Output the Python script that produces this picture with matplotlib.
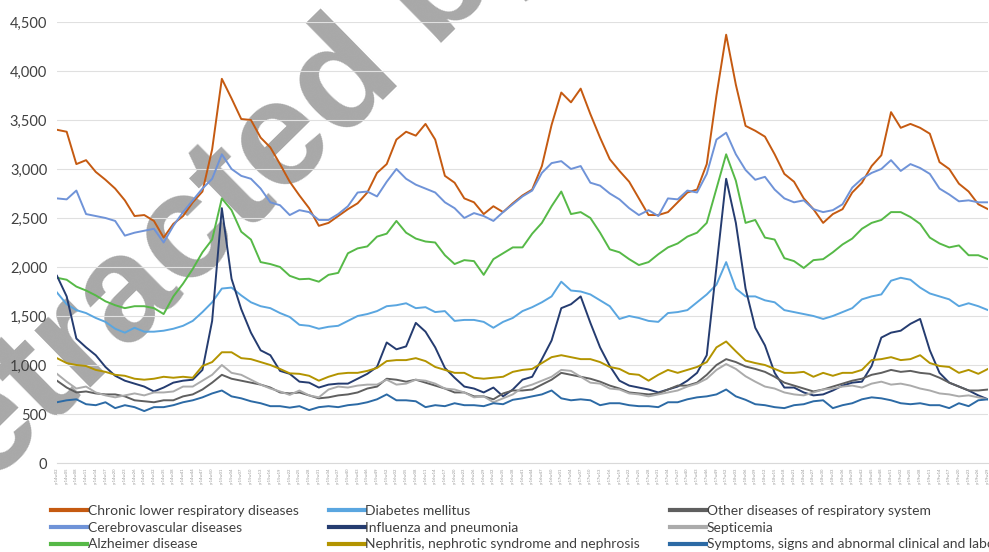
import matplotlib
matplotlib.use("Agg")
import matplotlib.pyplot as plt
from matplotlib.ticker import FuncFormatter

plt.rcParams["font.family"] = ["Lato", "DejaVu Sans"]

# weekly data, one value every 3 weeks (same spacing as the tick labels)
chronic = [3400, 3380, 3050, 3090, 2970, 2890, 2800, 2680, 2520, 2530, 2470, 2300, 2440, 2520, 2660, 2770, 3200, 3920, 3720, 3510, 3500, 3320, 3220, 3050, 2870,
           2730, 2600, 2420, 2450, 2520, 2590, 2650, 2760, 2960, 3050, 3300, 3380, 3340, 3460, 3300, 2930, 2860, 2700, 2660, 2540, 2620, 2560, 2650,
           2730, 2790, 3030, 3450, 3780, 3680, 3820, 3560, 3320, 3100, 2980, 2870, 2700, 2530, 2530, 2560, 2660, 2760, 2790, 3050, 3750, 4370, 3860, 3440,
           3390, 3330, 3150, 2950, 2870, 2700, 2590, 2450, 2540, 2590, 2760, 2860, 3030, 3140, 3580, 3420, 3460, 3420, 3360, 3070, 3000, 2850, 2770, 2640, 2590]
cerebro = [2700, 2690, 2780, 2540, 2520, 2500, 2470, 2320, 2350, 2370, 2390, 2250, 2420, 2560, 2680, 2800, 2900, 3150, 3000, 2930, 2900, 2800, 2660, 2630, 2530,
           2580, 2560, 2480, 2480, 2540, 2620, 2760, 2770, 2720, 2870, 3000, 2900, 2840, 2800, 2760, 2660, 2600, 2500, 2550, 2520, 2470, 2560, 2640,
           2720, 2780, 2960, 3060, 3080, 3000, 3030, 2860, 2830, 2750, 2690, 2600, 2530, 2580, 2520, 2700, 2690, 2780, 2760, 2950, 3300, 3370, 3150, 2990,
           2890, 2920, 2790, 2700, 2660, 2680, 2590, 2560, 2580, 2640, 2810, 2900, 2960, 3000, 3090, 2980, 3050, 3010, 2950, 2800, 2740, 2670, 2680, 2660, 2660]
alzheimer = [1890, 1870, 1800, 1760, 1710, 1650, 1610, 1580, 1600, 1600, 1580, 1520, 1700, 1830, 1980, 2150, 2280, 2700, 2580, 2360, 2280, 2050, 2030, 2000, 1910,
             1875, 1880, 1850, 1920, 1940, 2140, 2190, 2210, 2310, 2340, 2470, 2350, 2290, 2260, 2250, 2120, 2030, 2070, 2060, 1920, 2080, 2140, 2200,
             2200, 2340, 2450, 2620, 2770, 2540, 2560, 2500, 2350, 2180, 2150, 2080, 2020, 2050, 2130, 2200, 2240, 2310, 2350, 2450, 2800, 3150, 2880, 2450,
             2480, 2300, 2280, 2090, 2060, 1990, 2070, 2080, 2150, 2230, 2290, 2390, 2450, 2480, 2560, 2560, 2510, 2440, 2300, 2240, 2200, 2220, 2120, 2120, 2080]
diabetes = [1740, 1620, 1560, 1530, 1480, 1440, 1370, 1330, 1380, 1340, 1340, 1350, 1370, 1400, 1450, 1540, 1640, 1780, 1790, 1710, 1640, 1600, 1580, 1530, 1490,
            1410, 1400, 1370, 1390, 1400, 1450, 1500, 1520, 1550, 1600, 1610, 1630, 1580, 1590, 1540, 1550, 1450, 1460, 1460, 1440, 1380, 1440, 1480,
            1550, 1590, 1640, 1700, 1850, 1760, 1750, 1720, 1660, 1600, 1470, 1500, 1480, 1450, 1440, 1530, 1540, 1560, 1640, 1720, 1820, 2050, 1780, 1700,
            1700, 1660, 1640, 1560, 1540, 1520, 1500, 1470, 1500, 1540, 1580, 1670, 1700, 1720, 1860, 1890, 1870, 1790, 1730, 1700, 1670, 1600, 1630, 1600, 1560]
influenza = [1910, 1700, 1270, 1180, 1100, 980, 890, 840, 810, 780, 730, 770, 820, 840, 850, 950, 1450, 2600, 1880, 1570, 1330, 1150, 1100, 940, 910,
             830, 820, 770, 800, 810, 810, 860, 910, 980, 1230, 1160, 1190, 1430, 1340, 1180, 970, 870, 780, 760, 720, 770, 680, 750,
             850, 880, 1060, 1250, 1580, 1620, 1700, 1430, 1180, 990, 840, 790, 770, 750, 720, 750, 780, 840, 920, 1100, 2000, 2900, 2450, 1780,
             1380, 1200, 920, 770, 770, 720, 690, 700, 740, 790, 820, 830, 990, 1280, 1330, 1350, 1420, 1470, 1150, 920, 820, 780, 740, 690, 650]
nephritis = [1070, 1020, 1000, 990, 950, 930, 900, 890, 860, 850, 860, 880, 870, 880, 870, 990, 1030, 1130, 1130, 1070, 1060, 1030, 1000, 960, 915,
             910, 890, 840, 880, 910, 920, 920, 940, 970, 1040, 1050, 1050, 1070, 1040, 980, 950, 920, 920, 870, 860, 870, 880, 930,
             950, 960, 1020, 1080, 1100, 1080, 1060, 1060, 1030, 980, 960, 910, 900, 840, 900, 950, 920, 950, 980, 1030, 1180, 1240, 1140, 1045,
             1020, 1000, 960, 920, 920, 930, 880, 920, 890, 920, 920, 950, 1050, 1060, 1080, 1050, 1060, 1100, 1020, 990, 980, 920, 950, 910, 960]
other_resp = [840, 770, 720, 730, 710, 700, 700, 680, 640, 630, 620, 640, 640, 680, 700, 750, 820, 900, 860, 840, 820, 800, 770, 720, 710,
              720, 690, 660, 670, 690, 700, 720, 760, 780, 860, 850, 830, 850, 820, 790, 760, 720, 720, 680, 680, 650, 710, 740,
              740, 750, 800, 850, 920, 900, 880, 860, 830, 790, 760, 720, 710, 700, 710, 750, 790, 790, 820, 900, 1000, 1060, 1030, 985,
              960, 930, 880, 820, 790, 760, 730, 750, 780, 810, 840, 860, 900, 920, 950, 930, 940, 920, 910, 870, 820, 780, 740, 740, 750]
septicemia = [910, 830, 760, 780, 720, 690, 670, 690, 710, 690, 720, 720, 730, 780, 780, 840, 900, 1000, 920, 900, 850, 800, 760, 730, 695,
              740, 690, 670, 750, 780, 770, 790, 800, 800, 850, 800, 810, 850, 840, 810, 760, 750, 720, 670, 680, 620, 660, 700,
              770, 800, 840, 880, 950, 940, 880, 820, 810, 760, 750, 710, 700, 680, 700, 720, 740, 780, 810, 860, 950, 1010, 960, 885,
              830, 780, 760, 720, 700, 690, 720, 750, 760, 780, 790, 770, 810, 830, 800, 810, 790, 760, 740, 710, 700, 680, 690, 670, 650]
symptoms = [620, 640, 650, 600, 590, 620, 560, 590, 570, 530, 570, 570, 590, 620, 640, 670, 710, 740, 680, 660, 630, 610, 580, 580, 565,
            580, 540, 570, 580, 570, 590, 600, 620, 650, 700, 640, 640, 630, 570, 590, 580, 610, 590, 590, 580, 610, 600, 645,
            660, 680, 700, 740, 660, 640, 650, 640, 590, 610, 610, 590, 580, 580, 570, 620, 620, 650, 670, 680, 700, 750, 680, 645,
            600, 590, 570, 560, 590, 600, 630, 640, 560, 590, 610, 650, 670, 660, 640, 610, 600, 610, 590, 590, 560, 610, 580, 640, 650]

labels = ["Chronic lower respiratory diseases", "Cerebrovascular diseases", "Alzheimer disease",
          "Diabetes mellitus", "Influenza and pneumonia", "Nephritis, nephrotic syndrome and nephrosis",
          "Other diseases of respiratory system", "Septicemia",
          "Symptoms, signs and abnormal clinical and laboratory findings, not elsewhere classified"]
colors = ["#C55A11", "#6F93D8", "#56B947", "#5AA6E0", "#253C70", "#B39400", "#5F5F5F", "#ABABAB", "#2C6AA5"]
series = [chronic, cerebro, alzheimer, diabetes, influenza, nephritis, other_resp, septicemia, symptoms]

# tick labels: every 3rd week from 2014 week 2
weeks_in_year = {2014: 52, 2015: 53, 2016: 52, 2017: 52, 2018: 52, 2019: 52}
tick_labels = []
yr, wk = 2014, 2
for i in range(len(chronic)):
    tick_labels.append(f"yr{yr % 100:02d}w{wk:02d}")
    wk += 3
    if wk > weeks_in_year[yr]:
        wk -= weeks_in_year[yr]
        yr += 1

fig = plt.figure(figsize=(9.89, 5.52), dpi=100)
ax = fig.add_axes([0.0576, 0.1612, 0.9414, 0.7990])
ax.patch.set_alpha(0)  # so the watermark behind the axes shows through

x = list(range(len(chronic)))
handles = []
for s, c, lab in zip(series, colors, labels):
    h, = ax.plot(x, s, color=c, lw=1.4, label=lab)
    handles.append(h)

ax.set_ylim(0, 4500)
ax.set_xlim(0, len(chronic) - 1)
ax.set_yticks(range(0, 4501, 500))
ax.yaxis.set_major_formatter(FuncFormatter(lambda v, p: f"{int(v):,}"))
ax.set_xticks(x)
ax.set_xticklabels(tick_labels, rotation=90, fontsize=3, color="#999999")
ax.tick_params(axis="y", length=0, labelsize=10.5, labelcolor="#404040", pad=7)
ax.tick_params(axis="x", length=0, pad=3)
ax.grid(axis="y", color="#E0E0E0", lw=0.8)
ax.set_axisbelow(True)
for sp in ["top", "right", "left"]:
    ax.spines[sp].set_visible(False)
ax.spines["bottom"].set_color("#D9D9D9")

leg = fig.legend(handles=handles, loc="upper left", bbox_to_anchor=(51 / 989, 1 - 505 / 552),
                 ncol=3, frameon=False, fontsize=10, handlelength=2.6, handletextpad=0.05,
                 columnspacing=2.15, labelspacing=0.34, borderpad=0, borderaxespad=0)
for t in leg.get_texts():
    t.set_color("#404040")
for ln in leg.get_lines():
    ln.set_linewidth(3)

# watermark from the source image, drawn under the lines
fig.text(0.21, 0.605, "Retracted by", rotation=44.5, fontsize=108, color="#A8A8A8",
         ha="center", va="center", family="Liberation Sans", weight="bold", zorder=-1)

fig.savefig("out.png", dpi=100)
